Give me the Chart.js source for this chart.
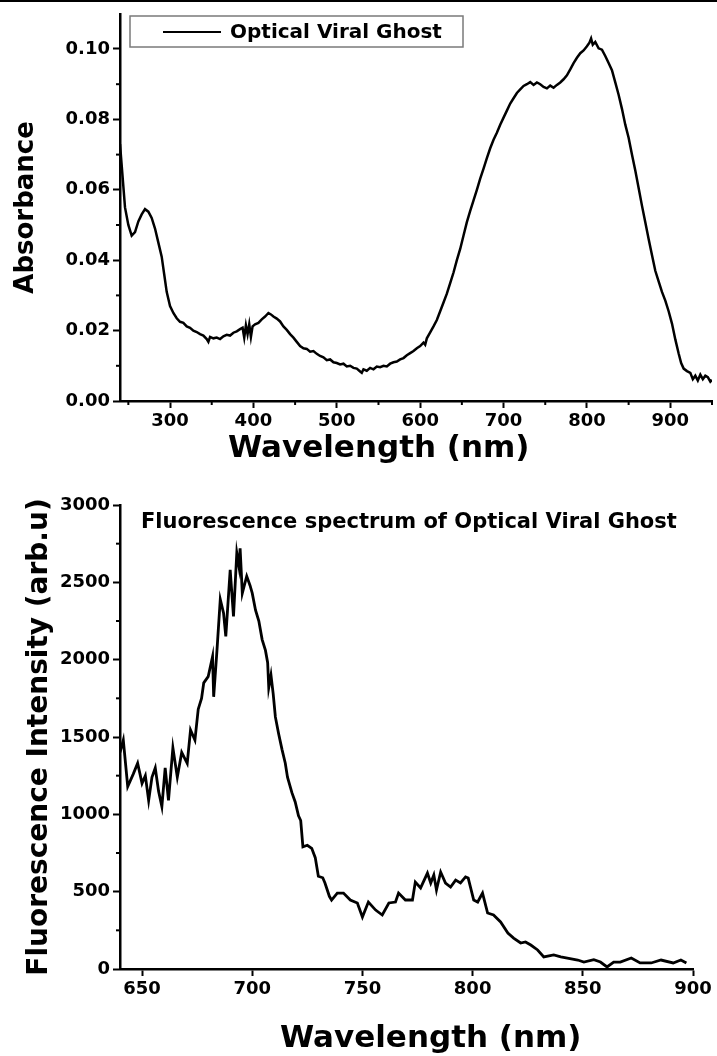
<!DOCTYPE html>
<html lang="en">
<head>
<meta charset="UTF-8">
<title>Optical Viral Ghost spectra</title>
<script src="https://cdn.jsdelivr.net/npm/chart.js"></script>
<style>
  body { margin: 0; background: #fff; }
  .page { position: relative; width: 717px; height: 1056px; overflow: hidden; }
  .page canvas { position: absolute; left: 0; }
  #absChart { top: 0; }
  #fluoChart { top: 470px; }
  .topline { position: absolute; left: 0; top: 0; width: 717px; height: 2px; background: #000; }
</style>
</head>
<body>
<div class="page">
  <canvas id="absChart" width="717" height="470"></canvas>
  <canvas id="fluoChart" width="717" height="586"></canvas>
  <div class="topline"></div>
</div>
<script>
const FONT = "'DejaVu Sans', sans-serif";

// Absorbance spectrum (top panel)
const absWavelength = [240, 243, 246, 250, 254, 258, 262, 266, 270, 274, 278, 282, 286, 290, 293, 296, 300, 304, 308, 312, 316, 320, 324, 328, 332, 336, 340, 344, 346, 348, 352, 356, 360, 364, 368, 372, 376, 380, 384, 387, 389, 391, 393, 395, 397, 399, 402, 406, 410, 414, 418, 421, 424, 428, 432, 436, 440, 444, 448, 452, 456, 460, 464, 468, 472, 476, 480, 484, 488, 492, 496, 500, 504, 508, 512, 516, 520, 524, 528, 530, 532, 536, 540, 544, 548, 552, 556, 560, 564, 568, 572, 576, 580, 584, 588, 592, 596, 600, 604, 606, 608, 612, 616, 620, 624, 628, 632, 636, 640, 644, 648, 652, 656, 660, 664, 668, 672, 676, 680, 684, 688, 692, 696, 700, 704, 708, 712, 716, 720, 724, 728, 732, 736, 740, 744, 748, 752, 756, 760, 764, 768, 772, 776, 780, 784, 788, 792, 796, 800, 803, 805, 807, 810, 814, 818, 822, 826, 830, 834, 838, 842, 846, 850, 854, 858, 862, 866, 870, 874, 878, 882, 886, 890, 894, 898, 902, 906, 910, 913, 916, 920, 924, 927, 930, 933, 936, 939, 942, 945, 948, 950];
const absorbance = [0.073, 0.064, 0.055, 0.050, 0.047, 0.048, 0.051, 0.053, 0.0545, 0.0538, 0.052, 0.049, 0.045, 0.041, 0.036, 0.031, 0.027, 0.025, 0.0235, 0.0225, 0.0222, 0.0212, 0.0208, 0.0200, 0.0196, 0.0190, 0.0186, 0.0176, 0.0168, 0.0182, 0.0178, 0.0180, 0.0176, 0.0184, 0.0188, 0.0186, 0.0194, 0.0198, 0.0204, 0.0208, 0.0180, 0.0215, 0.0190, 0.0218, 0.0182, 0.0212, 0.0218, 0.0222, 0.0232, 0.0240, 0.0250, 0.0246, 0.0240, 0.0234, 0.0226, 0.0212, 0.0202, 0.0190, 0.0180, 0.0168, 0.0156, 0.0150, 0.0148, 0.0140, 0.0142, 0.0134, 0.0128, 0.0124, 0.0116, 0.0118, 0.0110, 0.0108, 0.0104, 0.0106, 0.0098, 0.0100, 0.0094, 0.0092, 0.0084, 0.0080, 0.0090, 0.0086, 0.0094, 0.0090, 0.0098, 0.0096, 0.0100, 0.0098, 0.0106, 0.0110, 0.0112, 0.0118, 0.0122, 0.0130, 0.0136, 0.0142, 0.0150, 0.0156, 0.0166, 0.0160, 0.0178, 0.0195, 0.0212, 0.0230, 0.0255, 0.0280, 0.0305, 0.0335, 0.0365, 0.0400, 0.0432, 0.0470, 0.0508, 0.0540, 0.0570, 0.0600, 0.0632, 0.0660, 0.0690, 0.0718, 0.0742, 0.0762, 0.0785, 0.0805, 0.0825, 0.0845, 0.0860, 0.0875, 0.0885, 0.0895, 0.0900, 0.0906, 0.0898, 0.0905, 0.0900, 0.0892, 0.0888, 0.0896, 0.0890, 0.0898, 0.0905, 0.0914, 0.0925, 0.0942, 0.0960, 0.0975, 0.0988, 0.0996, 0.1008, 0.1018, 0.1030, 0.1012, 0.1020, 0.1002, 0.0998, 0.0980, 0.0960, 0.0940, 0.0905, 0.0870, 0.0830, 0.0785, 0.0748, 0.0700, 0.0655, 0.0605, 0.0555, 0.0508, 0.0460, 0.0415, 0.0370, 0.0340, 0.0310, 0.0285, 0.0255, 0.0220, 0.0175, 0.0135, 0.0108, 0.0092, 0.0085, 0.0080, 0.0062, 0.0072, 0.0058, 0.0075, 0.0062, 0.0072, 0.0068, 0.0055, 0.0060];
const absXTicks = [300, 400, 500, 600, 700, 800, 900];
const absXMinor = [250, 350, 450, 550, 650, 750, 850, 950];
const absYTicks = [0, 0.02, 0.04, 0.06, 0.08, 0.10];
const absYMinor = [0.01, 0.03, 0.05, 0.07, 0.09];

// Fluorescence spectrum (bottom panel)
const fluoWavelength = [640, 641.5, 643.5, 646, 648, 650, 651.5, 653, 654.5, 656, 657.5, 659, 660.5, 662, 664, 666, 668, 670.5, 672, 674, 675.5, 677, 678, 680, 682, 682.5, 684, 685.5, 687, 688, 690, 691.5, 693, 694, 694.5, 695.5, 697.5, 699, 700, 701.5, 703, 704.5, 706, 707, 707.5, 708.5, 709.5, 710.5, 712, 713.5, 715, 716, 718, 719.5, 721, 722, 723, 725, 727, 728.6, 730, 732, 733, 735, 736, 738.6, 741.4, 744.5, 747.7, 750, 752.7, 756, 759, 762, 765, 766.4, 769.5, 772.7, 774, 776.4, 779.5, 781, 782.4, 783.6, 785.5, 787.7, 790, 792.3, 794.5, 796.8, 798, 800.5, 802.3, 804.5, 806.8, 809.5, 812.7, 816, 818.6, 821.8, 824, 826.4, 829.5, 832.3, 836.8, 840, 843, 847.7, 850.5, 855, 858, 861, 864, 867, 872, 876, 881, 885.5, 891, 894.5, 897, 900];
const fluoIntensity = [1400, 1480, 1180, 1260, 1330, 1200, 1250, 1090, 1240, 1300, 1150, 1050, 1300, 1090, 1430, 1240, 1400, 1330, 1545, 1480, 1680, 1750, 1850, 1890, 2020, 1760, 2060, 2390, 2300, 2150, 2580, 2280, 2690, 2600, 2720, 2430, 2540, 2480, 2430, 2320, 2250, 2130, 2060, 1980, 1820, 1900, 1780, 1630, 1520, 1420, 1330, 1240, 1140, 1080, 990, 960, 790, 800, 780, 720, 600, 590, 556, 470, 446, 491, 491, 446, 427, 336, 433, 381, 349, 427, 433, 491, 446, 446, 562, 524, 620, 556, 608, 511, 627, 556, 530, 575, 556, 595, 588, 446, 433, 491, 362, 349, 304, 233, 200, 168, 175, 155, 123, 78, 91, 78, 71, 58, 45, 60, 45, 13, 45, 45, 71, 39, 39, 58, 39, 58, 39];
const fluoXTicks = [650, 700, 750, 800, 850, 900];
const fluoYTicks = [0, 500, 1000, 1500, 2000, 2500, 3000];
const fluoYMinor = [250, 750, 1250, 1750, 2250, 2750];

Chart.defaults.font.family = FONT;
Chart.defaults.color = '#000';

// short ticks between the labelled ones
const minorTicks = {
  id: 'minorTicks',
  afterDraw(chart, args, opts) {
    const {ctx, chartArea} = chart;
    ctx.save();
    ctx.strokeStyle = '#000';
    ctx.lineWidth = 2;
    (opts.x || []).forEach(v => {
      const px = chart.scales.x.getPixelForValue(v);
      ctx.beginPath();
      ctx.moveTo(px, chartArea.bottom);
      ctx.lineTo(px, chartArea.bottom + 4);
      ctx.stroke();
    });
    (opts.y || []).forEach(v => {
      const py = chart.scales.y.getPixelForValue(v);
      ctx.beginPath();
      ctx.moveTo(chartArea.left, py);
      ctx.lineTo(chartArea.left - 4, py);
      ctx.stroke();
    });
    ctx.restore();
  }
};

// free text: x titles, panel title, legend box
const extras = {
  id: 'extras',
  afterDraw(chart, args, opts) {
    const ctx = chart.ctx;
    ctx.save();
    ctx.fillStyle = '#000';
    ctx.textBaseline = 'alphabetic';
    ctx.textAlign = 'left';
    (opts.texts || []).forEach(t => {
      ctx.font = 'bold ' + t.size + 'px ' + FONT;
      ctx.fillText(t.text, t.x, t.y);
    });
    if (opts.legend) {
      const lg = opts.legend;
      ctx.strokeStyle = '#7a7a7a';
      ctx.lineWidth = 1.5;
      ctx.strokeRect(lg.x, lg.y, lg.w, lg.h);
      ctx.strokeStyle = '#000';
      ctx.lineWidth = 2;
      ctx.beginPath();
      ctx.moveTo(lg.x + 33, lg.y + 16);
      ctx.lineTo(lg.x + 91, lg.y + 16);
      ctx.stroke();
      ctx.font = 'bold 20px ' + FONT;
      ctx.fillText(chart.data.datasets[0].label, lg.x + 100, lg.y + 22);
    }
    ctx.restore();
  }
};

function axisCommon(tickValues, fmt, extra) {
  return Object.assign({
    type: 'linear',
    afterBuildTicks: s => { s.ticks = tickValues.map(v => ({ value: v })); },
    ticks: { font: { size: 18, weight: 'bold' }, color: '#000', padding: 3, callback: fmt },
    grid: { drawOnChartArea: false, drawTicks: true, tickLength: 7, tickColor: '#000', tickWidth: 2 },
    border: { display: true, color: '#000', width: 2.5 }
  }, extra);
}

new Chart(document.getElementById('absChart'), {
  type: 'line',
  data: {
    datasets: [{
      label: 'Optical Viral Ghost',
      data: absWavelength.map((w, i) => ({ x: w, y: absorbance[i] })),
      borderColor: '#000',
      borderWidth: 2.5,
      pointRadius: 0,
      tension: 0
    }]
  },
  options: {
    responsive: false,
    animation: false,
    layout: { padding: { top: 12, right: 5, left: 0, bottom: 0 } },
    plugins: {
      legend: { display: false },
      tooltip: { enabled: false },
      minorTicks: { x: absXMinor, y: absYMinor },
      extras: {
        texts: [{ text: 'Wavelength (nm)', x: 228, y: 457, size: 31 }],
        legend: { x: 130, y: 16, w: 333, h: 31 }
      }
    },
    scales: {
      x: axisCommon(absXTicks, v => v, {
        min: 240, max: 950,
        afterFit: s => { s.height = 69; }
      }),
      y: axisCommon(absYTicks, v => v.toFixed(2), {
        min: 0, max: 0.11,
        afterFit: s => { s.width = 120; },
        title: { display: true, text: 'Absorbance', font: { size: 26, weight: 'bold' }, color: '#000', padding: { top: 11, bottom: 0 } }
      })
    }
  },
  plugins: [minorTicks, extras]
});

new Chart(document.getElementById('fluoChart'), {
  type: 'line',
  data: {
    datasets: [{
      label: 'Fluorescence spectrum of Optical Viral Ghost',
      data: fluoWavelength.map((w, i) => ({ x: w, y: fluoIntensity[i] })),
      borderColor: '#000',
      borderWidth: 2.8,
      pointRadius: 0,
      tension: 0
    }]
  },
  options: {
    responsive: false,
    animation: false,
    layout: { padding: { top: 35, right: 24, left: 0, bottom: 0 } },
    plugins: {
      legend: { display: false },
      tooltip: { enabled: false },
      minorTicks: { y: fluoYMinor },
      extras: {
        texts: [
          { text: 'Fluorescence spectrum of Optical Viral Ghost', x: 141, y: 58, size: 21 },
          { text: 'Wavelength (nm)', x: 280, y: 577, size: 31 }
        ]
      }
    },
    scales: {
      x: axisCommon(fluoXTicks, v => v, {
        min: 640, max: 900,
        afterFit: s => { s.height = 87; }
      }),
      y: axisCommon(fluoYTicks, v => v, {
        min: 0, max: 3000,
        afterFit: s => { s.width = 120; },
        title: { display: true, text: 'Fluorescence Intensity (arb.u)', font: { size: 28, weight: 'bold' }, color: '#000', padding: { top: 23, bottom: 0 } }
      })
    }
  },
  plugins: [minorTicks, extras]
});
</script>
</body>
</html>
